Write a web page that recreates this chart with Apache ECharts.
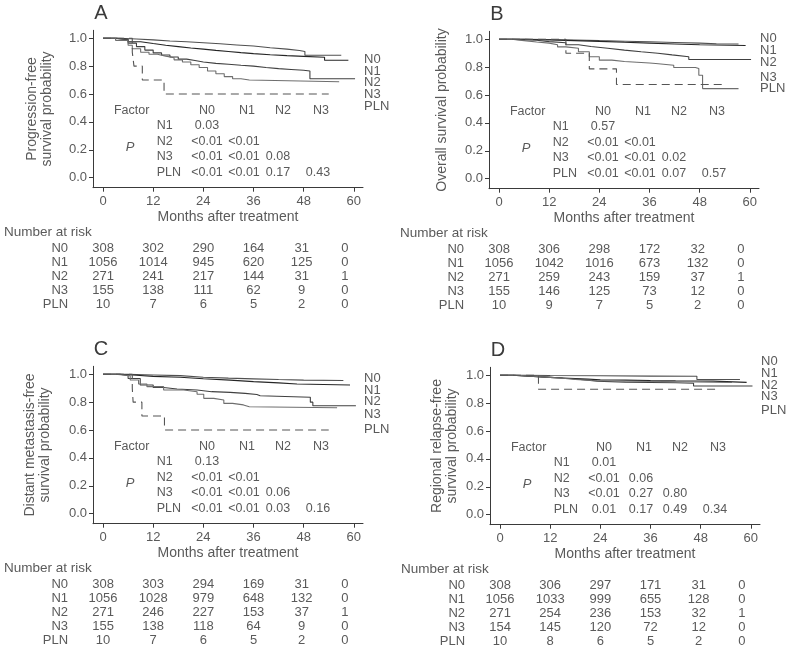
<!DOCTYPE html>
<html>
<head>
<meta charset="utf-8">
<script src="https://cdn.jsdelivr.net/npm/echarts@6/dist/echarts.min.js"></script>
<style>html,body{margin:0;padding:0;background:#fff}#c{width:787px;height:651px}</style>
</head>
<body>
<div id="c"></div>
<script>
// ---------------- DATA ----------------
const groups = ['N0', 'N1', 'N2', 'N3', 'PLN'];
const xTicks = [0, 12, 24, 36, 48, 60];
const yTicks = [0, 0.2, 0.4, 0.6, 0.8, 1.0];
const riskTimes = [0, 12, 24, 36, 48, 60];
const pCols = ['N0', 'N1', 'N2', 'N3'];
const pRows = ['N1', 'N2', 'N3', 'PLN'];

// Panel A: progression-free survival
const A_N0 = [[0,1],[4,0.995],[8,0.988],[12,0.98],[16,0.975],[20,0.968],[24,0.96],[28,0.952],[32,0.944],[36,0.932],[40,0.922],[44,0.912],[47,0.905],[48.3,0.878],[57,0.878]];
const A_N1 = [[0,1],[3,0.99],[6,0.975],[9,0.962],[12,0.95],[15,0.94],[18,0.93],[21,0.922],[24,0.913],[27,0.905],[30,0.897],[33,0.89],[36,0.882],[40,0.875],[44,0.87],[48,0.864],[53,0.842],[58.7,0.842]];
const A_N2 = [[0,1],[3,0.99],[6,0.965],[8,0.94],[10,0.915],[12,0.895],[14,0.88],[16,0.865],[18,0.85],[20,0.84],[22,0.83],[24,0.82],[27,0.813],[30,0.806],[33,0.8],[36,0.79],[39,0.782],[42,0.776],[45,0.77],[48,0.765],[49.5,0.71],[60.3,0.71]];
const A_N3 = [[0,1],[3,0.985],[6,0.95],[7,0.925],[9,0.9],[11,0.885],[13,0.872],[15,0.86],[17,0.845],[19,0.83],[21,0.81],[23,0.79],[25,0.765],[27,0.745],[29,0.725],[31,0.71],[33,0.7],[35,0.688],[56.5,0.688]];
const A_PLN = [[0,1],[7.0,0.9],[7.4,0.8],[9.4,0.7],[14.6,0.6],[54,0.6]];

// Panel B: overall survival
const B_N0 = [[0,1],[6,0.998],[12,0.995],[18,0.99],[24,0.986],[30,0.982],[36,0.977],[42,0.972],[48,0.968],[52,0.966],[57.3,0.966]];
const B_N1 = [[0,1],[6,0.995],[12,0.99],[18,0.985],[24,0.978],[30,0.972],[36,0.966],[42,0.96],[48,0.955],[59,0.952]];
const B_N2 = [[0,1],[3,0.997],[5,0.993],[9,0.983],[12,0.975],[16,0.96],[19,0.948],[22,0.935],[26,0.922],[30,0.91],[34,0.9],[38,0.888],[41.4,0.874],[45.4,0.855],[60.3,0.855]];
const B_N3 = [[0,1],[3,0.99],[6,0.98],[9,0.972],[12,0.96],[14,0.945],[16,0.935],[19,0.91],[21.6,0.874],[24,0.85],[27,0.84],[30,0.835],[33,0.83],[36,0.826],[37.5,0.814],[41.8,0.797],[47,0.79],[47.8,0.742],[48.7,0.646],[57.3,0.646]];
const B_PLN = [[0,1],[16,0.9],[21.6,0.7875],[28.1,0.675],[53.7,0.675]];

// Panel C: distant metastasis-free survival
const C_N0 = [[0,1],[6,0.995],[12,0.99],[18.5,0.978],[24,0.972],[30,0.967],[36,0.962],[42,0.958],[48,0.955],[57.5,0.954]];
const C_N1 = [[0,1],[4,0.993],[8,0.985],[12,0.978],[18.5,0.968],[24,0.958],[30.4,0.947],[36,0.938],[42,0.93],[46.4,0.923],[59.1,0.918]];
const C_N2 = [[0,1],[4,0.99],[6,0.97],[8.9,0.923],[12,0.905],[14.5,0.894],[17.7,0.887],[22.5,0.875],[26,0.87],[30.4,0.863],[34,0.855],[36.8,0.846],[37.6,0.835],[49.6,0.8],[50.2,0.774],[60.5,0.774]];
const C_N3 = [[0,1],[3,0.99],[6.5,0.959],[8.5,0.93],[10.5,0.911],[14.5,0.887],[19.3,0.875],[22.5,0.856],[24.1,0.827],[26.5,0.815],[28.9,0.791],[31,0.78],[33.6,0.767],[35,0.76],[56,0.76]];
const C_PLN = [[0,1],[7.0,0.9],[7.2,0.8],[9.3,0.7],[14.7,0.6],[54,0.6]];

// Panel D: regional relapse-free survival
const D_N0 = [[0,1],[6,0.998],[12,0.996],[24,0.994],[36,0.993],[47.1,0.97],[57.4,0.97]];
const D_N1 = [[0,1],[3,0.995],[6,0.99],[9,0.985],[12,0.98],[15,0.976],[18,0.972],[21,0.968],[24,0.965],[30,0.962],[36,0.96],[42,0.958],[51,0.949],[59,0.949]];
const D_N2 = [[0,1],[3,0.995],[6,0.99],[9,0.985],[12,0.98],[15,0.973],[18,0.965],[21,0.958],[23.2,0.95],[30,0.948],[36,0.946],[42,0.943],[46.3,0.923],[60.4,0.923]];
const D_N3 = [[0,1],[4,0.993],[8,0.985],[12,0.978],[15,0.97],[18,0.962],[22,0.957],[30,0.955],[40,0.952],[47,0.948],[55.5,0.948]];
const D_PLN = [[0,1],[9.2,0.9],[52.6,0.9]];

// P-value tables (rows N1, N2, N3, PLN vs columns N0..N3)
const pA = [['0.03'], ['<0.01','<0.01'], ['<0.01','<0.01','0.08'], ['<0.01','<0.01','0.17','0.43']];
const pB = [['0.57'], ['<0.01','<0.01'], ['<0.01','<0.01','0.02'], ['<0.01','<0.01','0.07','0.57']];
const pC = [['0.13'], ['<0.01','<0.01'], ['<0.01','<0.01','0.06'], ['<0.01','<0.01','0.03','0.16']];
const pD = [['0.01'], ['<0.01','0.06'], ['<0.01','0.27','0.80'], ['0.01','0.17','0.49','0.34']];

// Number at risk (rows N0..PLN, columns at riskTimes)
const riskA = [[308,302,290,164,31,0],[1056,1014,945,620,125,0],[271,241,217,144,31,1],[155,138,111,62,9,0],[10,7,6,5,2,0]];
const riskB = [[308,306,298,172,32,0],[1056,1042,1016,673,132,0],[271,259,243,159,37,1],[155,146,125,73,12,0],[10,9,7,5,2,0]];
const riskC = [[308,303,294,169,31,0],[1056,1028,979,648,132,0],[271,246,227,153,37,1],[155,138,118,64,9,0],[10,7,6,5,2,0]];
const riskD = [[308,306,297,171,31,0],[1056,1033,999,655,128,0],[271,254,236,153,32,1],[154,145,120,72,12,0],[10,8,6,5,2,0]];

const yTitles = ['Progression-free\nsurvival probability', 'Overall survival probability',
                 'Distant metastasis-free\nsurvival probability', 'Regional relapse-free\nsurvival probability'];
const panelLetters = ['A', 'B', 'C', 'D'];
const xTitle = 'Months after treatment';

// ---------------- LAYOUT / STYLE ----------------
const FONT = '"Liberation Sans", Arial, Helvetica, sans-serif';
const TXT = '#5a5a5a';
const AX = '#3a3a3a';
const GRID = {left: 93, top: 30.3, width: 270, height: 157.4};
const XMIN = -2.4, XMAX = 62.2, YMIN = -0.072, YMAX = 1.057;
const layout = [
  {ox: 0,   oy: 0,   yGap: 53, legendY: [59, 71, 82.5, 94, 106]},
  {ox: 396, oy: 1,   yGap: 47, legendY: [37.3, 49.7, 61.7, 76.7, 87.3]},
  {ox: 0,   oy: 336, yGap: 55, legendY: [42.3, 54, 65.7, 78.3, 93.3]},
  {ox: 397, oy: 337, yGap: 45, legendY: [24.7, 36.3, 48, 59.7, 73.7]}
];
const lineColors = ['#505050', '#262626', '#404040', '#6e6e6e', '#555555'];
const riskNudge = [0, 0, 0, 0, -2, -9];

const curves = [
  [A_N0, A_N1, A_N2, A_N3, A_PLN],
  [B_N0, B_N1, B_N2, B_N3, B_PLN],
  [C_N0, C_N1, C_N2, C_N3, C_PLN],
  [D_N0, D_N1, D_N2, D_N3, D_PLN]
];
const pTables = [pA, pB, pC, pD];
const riskTables = [riskA, riskB, riskC, riskD];

function xpx(i, t) {
  return layout[i].ox + GRID.left + (t - XMIN) / (XMAX - XMIN) * GRID.width;
}
function txt(x, y, s, size, align, opts) {
  opts = opts || {};
  return {
    type: 'text', x: x, y: y, silent: true,
    style: {
      text: s, fill: opts.fill || TXT,
      font: (opts.italic ? 'italic ' : '') + size + 'px ' + FONT,
      align: align, verticalAlign: 'middle',
      textAlign: align, textVerticalAlign: 'middle'
    }
  };
}

const grids = [], xAxes = [], yAxes = [], series = [], graphics = [];
layout.forEach(function (L, i) {
  grids.push({left: L.ox + GRID.left, top: L.oy + GRID.top, width: GRID.width, height: GRID.height, containLabel: false});
  xAxes.push({
    gridIndex: i, type: 'value', min: XMIN, max: XMAX,
    axisLine: {show: true, onZero: false, lineStyle: {color: AX, width: 1}},
    axisTick: {show: true, length: 4, customValues: xTicks, lineStyle: {color: AX}},
    axisLabel: {customValues: xTicks, color: TXT, fontSize: 13, fontFamily: FONT, margin: 7},
    splitLine: {show: false},
    name: xTitle, nameLocation: 'middle', nameGap: 29.3,
    nameTextStyle: {color: TXT, fontSize: 14, fontFamily: FONT, verticalAlign: 'middle'}
  });
  yAxes.push({
    gridIndex: i, type: 'value', min: YMIN, max: YMAX,
    axisLine: {show: true, onZero: false, lineStyle: {color: AX, width: 1}},
    axisTick: {show: true, length: 4, customValues: yTicks, lineStyle: {color: AX}},
    axisLabel: {customValues: yTicks, color: TXT, fontSize: 13, fontFamily: FONT, margin: 6,
                formatter: function (v) { return v.toFixed(1); }},
    splitLine: {show: false},
    name: yTitles[i], nameLocation: 'middle', nameGap: L.yGap, nameRotate: 90,
    nameTextStyle: {color: TXT, fontSize: 14, fontFamily: FONT, lineHeight: 15, verticalAlign: 'middle', align: 'center'}
  });
  curves[i].forEach(function (d, k) {
    series.push({
      type: 'line', xAxisIndex: i, yAxisIndex: i, data: d, step: 'end',
      symbol: 'none', showSymbol: false, silent: true, animation: false,
      lineStyle: {color: lineColors[k], width: 1.1, type: groups[k] === 'PLN' ? [8, 5] : 'solid'}
    });
  });

  // panel letter
  graphics.push(txt(L.ox + 101, L.oy + 13.5, panelLetters[i], 20, 'center', {fill: '#3a3a3a'}));
  // curve labels
  groups.forEach(function (g, k) {
    graphics.push(txt(L.ox + 364, L.oy + L.legendY[k], g, 13, 'left'));
  });
  // P-value table
  const rowY = [126, 141.5, 156.8, 172.5];
  const hdrX = [207, 247, 283, 321];
  const valX = [207, 244, 278, 318];
  graphics.push(txt(L.ox + 131.7, L.oy + 111, 'Factor', 12.5, 'center'));
  pCols.forEach(function (c, j) { graphics.push(txt(L.ox + hdrX[j], L.oy + 111, c, 12.5, 'center')); });
  graphics.push(txt(L.ox + 130, L.oy + 147, 'P', 13, 'center', {italic: true}));
  pRows.forEach(function (r, ri) {
    graphics.push(txt(L.ox + 156.7, L.oy + rowY[ri], r, 12.5, 'left'));
    pTables[i][ri].forEach(function (v, j) {
      graphics.push(txt(L.ox + valX[j], L.oy + rowY[ri], v, 12.5, 'center'));
    });
  });
  // Number at risk table
  graphics.push(txt(L.ox + 4, L.oy + 232, 'Number at risk', 13.5, 'left'));
  const riskY = [248.5, 262.5, 276.5, 290.5, 304.5];
  groups.forEach(function (g, k) {
    graphics.push(txt(xpx(i, 0) - 35, L.oy + riskY[k], g, 13, 'right'));
    riskTables[i][k].forEach(function (v, j) {
      graphics.push(txt(xpx(i, riskTimes[j]) + riskNudge[j], L.oy + riskY[k], String(v), 13, 'center'));
    });
  });
});

const chart = echarts.init(document.getElementById('c'), null, {renderer: 'canvas'});
chart.setOption({
  backgroundColor: '#fff',
  animation: false,
  grid: grids, xAxis: xAxes, yAxis: yAxes, series: series,
  graphic: graphics
});
</script>
</body>
</html>
